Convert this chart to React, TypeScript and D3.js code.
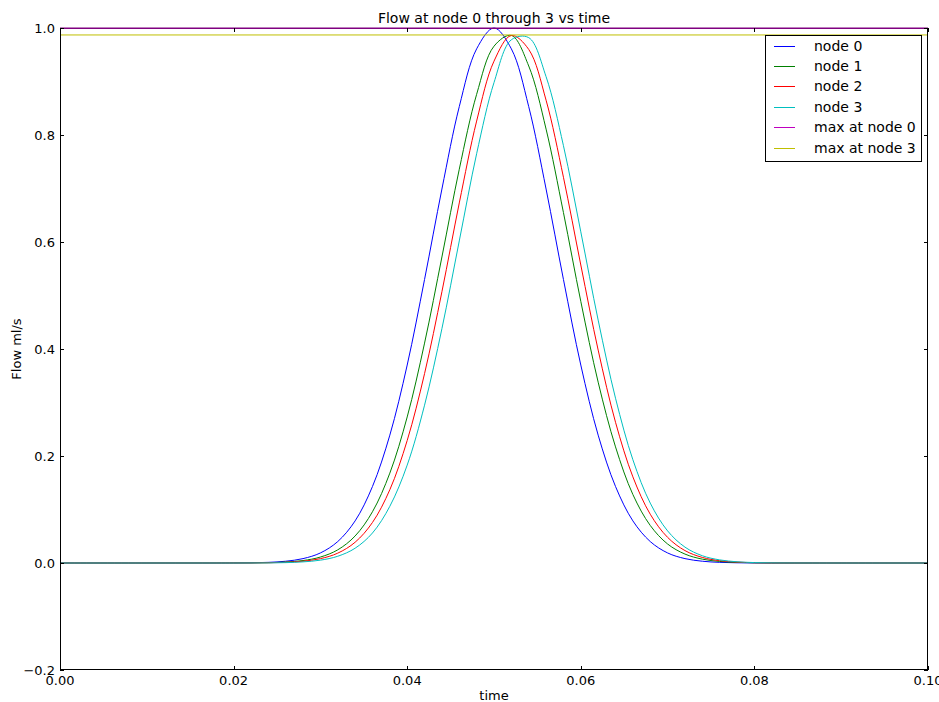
import React from "react";
import * as d3 from "d3";

const times = [0, 0.01, 0.018, 0.02, 0.022, 0.024, 0.026, 0.028, 0.03, 0.032, 0.034, 0.036, 0.038, 0.04, 0.042, 0.044, 0.046, 0.048, 0.05, 0.052, 0.054, 0.056, 0.058, 0.06, 0.062, 0.064, 0.066, 0.068, 0.07, 0.072, 0.074, 0.076, 0.078, 0.08, 0.082, 0.084, 0.09, 0.1];

const node0 = [0, 0, 0, 0.0001, 0.0004, 0.0012, 0.0033, 0.0082, 0.0188, 0.0401, 0.0787, 0.143, 0.239, 0.37, 0.53, 0.699, 0.853, 0.961, 1.0, 0.961, 0.853, 0.699, 0.53, 0.37, 0.239, 0.143, 0.0787, 0.0401, 0.0188, 0.0082, 0.0033, 0.0012, 0.0004, 0.0001, 0, 0, 0, 0];
const node1 = [0, 0, 0.00005, 0.0001, 0.0002, 0.00065, 0.0018, 0.0046, 0.0111, 0.0246, 0.0505, 0.0958, 0.168, 0.273, 0.411, 0.572, 0.736, 0.876, 0.966, 0.986, 0.929, 0.811, 0.655, 0.489, 0.338, 0.217, 0.128, 0.0702, 0.0355, 0.0167, 0.0072, 0.0029, 0.0011, 0.0004, 0.0001, 0, 0, 0];
const node2 = [0, 0, 0, 0.00004, 0.00014, 0.00044, 0.0012, 0.0033, 0.0081, 0.0184, 0.0388, 0.0758, 0.137, 0.229, 0.354, 0.507, 0.673, 0.826, 0.938, 0.986, 0.96, 0.865, 0.721, 0.557, 0.398, 0.263, 0.161, 0.0912, 0.0479, 0.0232, 0.0104, 0.0043, 0.0017, 0.0006, 0.0002, 0.00007, 0, 0];
const node3 = [0, 0, 0, 0, 0.0001, 0.0002, 0.0007, 0.0021, 0.0053, 0.0126, 0.0276, 0.0561, 0.106, 0.183, 0.295, 0.438, 0.602, 0.765, 0.898, 0.978, 0.982, 0.909, 0.78, 0.619, 0.454, 0.308, 0.193, 0.112, 0.06, 0.0297, 0.0136, 0.0058, 0.0023, 0.0008, 0.0003, 0.0001, 0, 0];

const maxNode0 = 1.0;
const maxNode3 = 0.987;

const seriesNames = ["node 0", "node 1", "node 2", "node 3", "max at node 0", "max at node 3"];
const seriesColors = ["#0000ff", "#008000", "#ff0000", "#00bfbf", "#bf00bf", "#bfbf00"];

const xTicks = [0, 0.02, 0.04, 0.06, 0.08, 0.1];
const yTicks = [-0.2, 0, 0.2, 0.4, 0.6, 0.8, 1.0];

const W = 939;
const H = 702;
const L = 60, R = 928, T = 28, B = 670;
const FONT = "DejaVu Sans, sans-serif";

export default function App() {
  const x = d3.scaleLinear().domain([0, 0.1]).range([L, R]);
  const y = d3.scaleLinear().domain([-0.2, 1.0]).range([B, T]);

  const line = d3
    .line<[number, number]>()
    .x((d) => x(d[0]))
    .y((d) => y(d[1]))
    .curve(d3.curveCatmullRom.alpha(0.5));

  const curves = [node0, node1, node2, node3].map((vals) =>
    line(times.map((t, i) => [t, vals[i]] as [number, number]))
  );
  const flat = d3
    .line<[number, number]>()
    .x((d) => x(d[0]))
    .y((d) => y(d[1]));
  const maxLines = [maxNode0, maxNode3].map((v) => flat([[0, v], [0.1, v]]));

  const fmtX = d3.format(".2f");
  const fmtY = (v: number) => d3.format(".1f")(v).replace("-", "\u2212");

  const legX = 765, legY = 35, legW = 156, legH = 126;
  const rowH = 20.4;

  return (
    <div style={{ position: "absolute", left: 0, top: 0, width: W, height: H, background: "#fff" }}>
      <svg width={W} height={H} style={{ display: "block" }} fontFamily={FONT}>
        <rect x={0} y={0} width={W} height={H} fill="#fff" />
        <defs>
          <clipPath id="plotclip">
            <rect x={L} y={T - 1} width={R - L} height={B - T + 1} />
          </clipPath>
        </defs>
        <g clipPath="url(#plotclip)" fill="none" strokeWidth={1}>
          {curves.map((d, i) => (
            <path key={i} d={d || ""} stroke={seriesColors[i]} />
          ))}
          <path d={maxLines[1] || ""} stroke={seriesColors[5]} />
        </g>
        {/* frame */}
        <rect x={L + 0.5} y={T + 0.5} width={R - L - 1} height={B - T - 1} fill="none" stroke="#000" strokeWidth={1} />
        <path d={maxLines[0] || ""} stroke="#800080" strokeWidth={1.5} fill="none" transform="translate(0,0.25)" />
        {/* ticks */}
        {xTicks.map((t, i) => (
          <g key={"xt" + i}>
            <line x1={Math.round(x(t)) + 0.5} x2={Math.round(x(t)) + 0.5} y1={B} y2={B - 4} stroke="#000" />
            <line x1={Math.round(x(t)) + 0.5} x2={Math.round(x(t)) + 0.5} y1={T} y2={T + 4} stroke="#000" />
            <text x={x(t)} y={685} fontSize={13} textAnchor="middle" fill="#000">
              {fmtX(t)}
            </text>
          </g>
        ))}
        {yTicks.map((t, i) => (
          <g key={"yt" + i}>
            <line x1={L} x2={L + 4} y1={Math.round(y(t)) + 0.5} y2={Math.round(y(t)) + 0.5} stroke="#000" />
            <line x1={R} x2={R - 4} y1={Math.round(y(t)) + 0.5} y2={Math.round(y(t)) + 0.5} stroke="#000" />
            <text x={55} y={y(t) + 4.5} fontSize={13} textAnchor="end" fill="#000">
              {fmtY(t)}
            </text>
          </g>
        ))}
        {/* labels */}
        <text x={(L + R) / 2} y={23} fontSize={14} textAnchor="middle" fill="#000">
          Flow at node 0 through 3 vs time
        </text>
        <text x={(L + R) / 2} y={700} fontSize={13} textAnchor="middle" fill="#000">
          time
        </text>
        <text transform={`translate(21,${(T + B) / 2}) rotate(-90)`} fontSize={13} textAnchor="middle" fill="#000">
          Flow ml/s
        </text>
        {/* legend */}
        <rect x={legX + 0.5} y={legY + 0.5} width={legW} height={legH} fill="#fff" stroke="#000" strokeWidth={1} />
        {seriesNames.map((name, i) => {
          const cy = 45.5 + i * rowH;
          return (
            <g key={"lg" + i}>
              <line x1={774} x2={795} y1={Math.round(cy) + 0.5} y2={Math.round(cy) + 0.5} stroke={seriesColors[i]} strokeWidth={1} />
              <text x={814} y={cy + 5} fontSize={14} fill="#000">
                {name}
              </text>
            </g>
          );
        })}
      </svg>
    </div>
  );
}
